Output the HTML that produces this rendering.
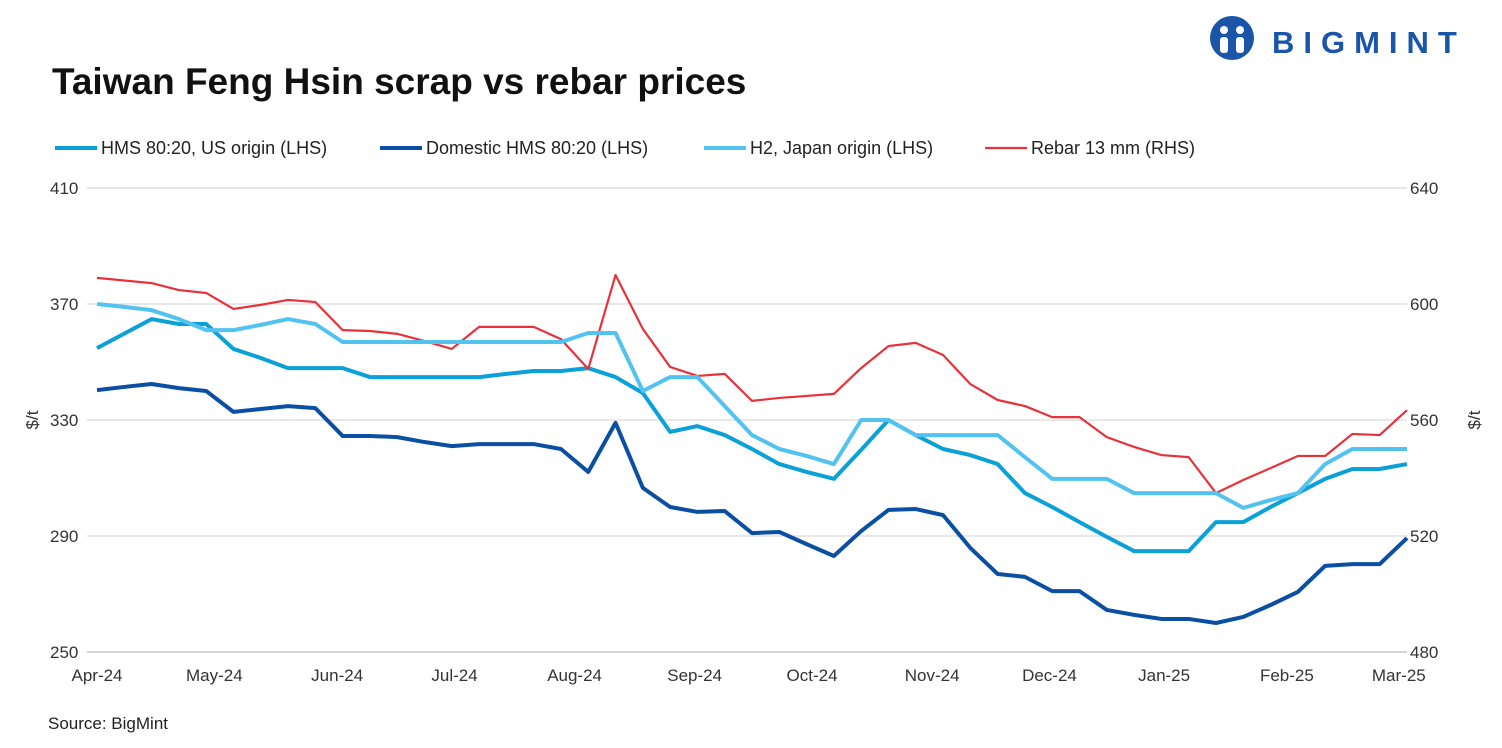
<!DOCTYPE html>
<html><head><meta charset="utf-8"><style>
body{margin:0;background:#fff;font-family:"Liberation Sans",sans-serif;}
#wrap{position:relative;width:1502px;height:748px;overflow:hidden;}
</style></head><body>
<div id="wrap">
<svg id="chart" width="1502" height="748">
<text x="52" y="94" font-size="37" font-weight="bold" fill="#111">Taiwan Feng Hsin scrap vs rebar prices</text>
<g>
<circle cx="1232" cy="38" r="22" fill="#1a56a8"/>
<circle cx="1224" cy="30" r="4" fill="#fff"/><circle cx="1240" cy="30" r="4" fill="#fff"/>
<rect x="1220" y="37" width="8" height="16" rx="3" fill="#fff"/><rect x="1236" y="37" width="8" height="16" rx="3" fill="#fff"/>
<text x="1272" y="53" font-size="31" font-weight="bold" fill="#1a56a8" letter-spacing="9">BIGMINT</text>
</g>
<g id="legend"></g>
<g id="grid"></g><g id="axes"></g><g id="series"></g>
<text x="48" y="729" font-size="17" fill="#222">Source: BigMint</text>
</svg>
</div>
<script>
const monthLabels=["Apr-24","May-24","Jun-24","Jul-24","Aug-24","Sep-24","Oct-24","Nov-24","Dec-24","Jan-25","Feb-25","Mar-25"];
const monthIdx=[0,4.3,8.8,13.1,17.5,21.9,26.2,30.6,34.9,39.1,43.6,47.7];
const leftTicks=[250,290,330,370,410];
const rightTicks=[480,520,560,600,640];
const hmsUS=[354.8,359.8,364.8,363.1,363.1,354.5,351.4,347.9,347.9,347.9,344.8,344.8,344.8,344.8,344.8,345.9,346.9,346.9,347.9,344.8,339.3,325.9,327.9,324.8,320,314.8,312.1,309.7,319.7,330,324.8,320,317.9,314.8,304.8,300,294.8,289.7,284.8,284.8,284.8,294.8,294.8,300,304.8,309.7,313.1,313.1,314.8];
const domestic=[340.3,341.4,342.4,341,340,332.8,333.8,334.8,334.1,324.5,324.5,324.1,322.4,321,321.7,321.7,321.7,320,312.1,329,306.6,300,298.3,298.6,291,291.4,287.2,283.1,291.7,299,299.3,297.2,285.9,276.9,275.9,271,271,264.5,262.8,261.4,261.4,260,262.1,266.2,270.7,279.7,280.3,280.3,289.3];
const h2Japan=[370,369,367.9,364.8,361,361,362.8,364.8,363.1,356.9,356.9,356.9,356.9,356.9,356.9,356.9,356.9,356.9,360,360,340,344.8,344.8,334.8,324.8,320,317.6,314.8,330,330,324.8,324.8,324.8,324.8,317.2,309.7,309.7,309.7,304.8,304.8,304.8,304.8,299.7,302.4,304.8,314.8,320,320,320];
const rebar=[609,608.1,607.2,604.8,603.8,598.3,599.7,601.4,600.7,591,590.7,589.7,587.2,584.5,592.1,592.1,592.1,587.9,577.6,610,591.4,578.3,575.2,575.9,566.6,567.6,568.3,569,577.9,585.5,586.6,582.4,572.4,566.9,564.8,561,561,554.1,550.7,547.9,547.2,534.8,539.3,543.4,547.6,547.6,555.2,554.8,563.4];

const NS="http://www.w3.org/2000/svg";
const X0=97,X1=1407,YT=188,YB=652;
const n=rebar.length;
const xS=i=>X0+(X1-X0)*i/(n-1);
const yL=v=>YB-(v-250)/(410-250)*(YB-YT);
const yR=v=>YB-(v-480)/(640-480)*(YB-YT);
function mk(tag,attrs,parent){const e=document.createElementNS(NS,tag);for(const k in attrs)e.setAttribute(k,attrs[k]);document.getElementById(parent).appendChild(e);return e;}
leftTicks.forEach((t,k)=>{
 const g=mk('line',{x1:X0-10,x2:X1,y1:yL(t),y2:yL(t),stroke:k===0?'#bbb':'#d9d9d9','stroke-width':1.2},'grid');
 
 
 const l=mk('text',{x:50,y:yL(t)+6,'font-size':17,fill:'#333'},'axes');l.textContent=t;
 
 
});
rightTicks.forEach(t=>{
 const l=mk('text',{x:1410,y:yR(t)+6,'font-size':17,fill:'#333'},'axes');l.textContent=t;
 
 
});
monthLabels.forEach((m,k)=>{
 const l=mk('text',{x:xS(monthIdx[k]),y:681,'font-size':17,fill:'#333','text-anchor':'middle'},'axes');l.textContent=m;
 
 
});
let t=mk('text',{x:0,y:0,'font-size':17,fill:'#333',transform:'translate(38,420) rotate(-90)','text-anchor':'middle'},'axes');t.textContent='$/t';


t=mk('text',{x:0,y:0,'font-size':17,fill:'#333',transform:'translate(1480,420) rotate(-90)','text-anchor':'middle'},'axes');t.textContent='$/t';


const series=[
 {d:hmsUS,c:'#0aa0d8',w:4,y:yL,name:'HMS 80:20, US origin (LHS)',id:'hms-us-line',lx:55},
 {d:domestic,c:'#0a4fa3',w:4,y:yL,name:'Domestic HMS 80:20 (LHS)',id:'domestic-hms-line',lx:380},
 {d:h2Japan,c:'#52c3f0',w:4,y:yL,name:'H2, Japan origin (LHS)',id:'h2-japan-line',lx:704},
 {d:rebar,c:'#e8323a',w:2.2,y:yR,name:'Rebar 13 mm (RHS)',id:'rebar-line',lx:985}
];
[series[0],series[1],series[3],series[2]].forEach(s=>{
 const p=mk('polyline',{points:s.d.map((v,i)=>xS(i)+','+s.y(v)).join(' '),fill:'none',stroke:s.c,'stroke-width':s.w,'stroke-linejoin':'round'},'series');
 
 
});
series.forEach(s=>{
 const l=mk('line',{x1:s.lx,x2:s.lx+42,y1:148,y2:148,stroke:s.c,'stroke-width':s.w},'legend');
 
 
 const tx=mk('text',{x:s.lx+46,y:154,'font-size':18,fill:'#222'},'legend');tx.textContent=s.name;
 
 
});
</script>
</body></html>
